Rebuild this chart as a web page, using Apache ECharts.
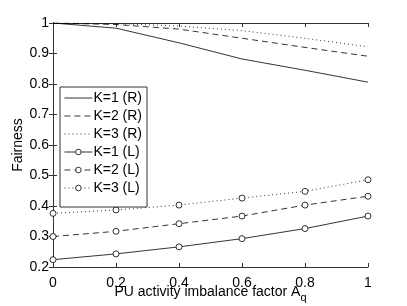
<!DOCTYPE html>
<html><head><meta charset="utf-8">
<script src="https://cdn.jsdelivr.net/npm/echarts@6/dist/echarts.min.js"></script>
<style>html,body{margin:0;padding:0;background:#fff}#c{width:407px;height:306px}</style>
</head><body><div id="c"></div>
<script>
const xCats = [0, 0.2, 0.4, 0.6, 0.8, 1];
const k1R = [1.0, 0.983, 0.935, 0.882, 0.845, 0.806];
const k2R = [1.0, 0.995, 0.980, 0.950, 0.920, 0.891];
const k3R = [1.0, 0.998, 0.990, 0.975, 0.950, 0.922];
const k1L = [0.224, 0.243, 0.266, 0.293, 0.326, 0.367];
const k2L = [0.300, 0.317, 0.342, 0.367, 0.403, 0.432];
const k3L = [0.376, 0.387, 0.403, 0.426, 0.448, 0.486];
const names = ['K=1 (R)','K=2 (R)','K=3 (R)','K=1 (L)','K=2 (L)','K=3 (L)'];
const datas = [k1R,k2R,k3R,k1L,k2L,k3L];
const styles = ['solid',[6,4],[1,3],'solid',[6,4],[1,3]];
const font = '"Liberation Sans", Arial, sans-serif';
const chart = echarts.init(document.getElementById('c'));
const circStyle = {color:'#fff', borderColor:'#000', borderWidth:0.8};
const series = datas.map((d,i)=>({
  name: names[i], type:'line',
  data: d.map((v,j)=>[xCats[j], v]),
  symbol: i>=3 ? 'circle' : 'none',
  symbolSize: 6,
  showSymbol: i>=3,
  lineStyle:{color:'#000', width:0.8, type: styles[i]},
  itemStyle: circStyle,
  silent:true, animation:false
}));
const axLine = {lineStyle:{color:'#333', width:1}};
chart.setOption({
  animation:false,
  textStyle:{fontFamily:font},
  grid:{left:53, right:39, top:23, bottom:39, outerBoundsMode:'none', containLabel:false},
  legend:{
    orient:'vertical', left:60, top:87, itemGap:2, itemWidth:28, itemHeight:7,
    padding:[3,5,11,4], borderColor:'#333', borderWidth:1, backgroundColor:'#fff',
    lineStyle:{width:0.8},
    textStyle:{fontFamily:font, fontSize:14, color:'#000', lineHeight:16, padding:[0,0,0,-4]},
    data: names.map((n,i)=>({name:n, itemStyle: i>=3 ? circStyle : {opacity:0}}))
  },
  xAxis:[{
    type:'value', min:0, max:1, interval:0.2,
    axisLine:axLine, axisTick:{inside:true, length:4, lineStyle:{color:'#333'}},
    splitLine:{show:false},
    axisLabel:{color:'#000', fontSize:14, margin:9, formatter:v=>String(+v.toFixed(1))},
    name:'{a|PU activity imbalance factor A}{s|q}', nameLocation:'middle', nameGap:14,
    nameMoveOverlap:false,
    nameTextStyle:{rich:{a:{fontSize:14, color:'#000', fontFamily:font}, s:{fontSize:11, color:'#000', fontFamily:font, padding:[11,0,0,0]}}}
  },{
    type:'value', min:0, max:1, interval:0.2, position:'top',
    axisLine:axLine, axisTick:{inside:true, length:4, lineStyle:{color:'#333'}},
    axisLabel:{show:false}, splitLine:{show:false}
  }],
  yAxis:[{
    type:'value', min:0.2, max:1, interval:0.1,
    axisLine:axLine, axisTick:{inside:true, length:4, lineStyle:{color:'#333'}},
    splitLine:{show:false},
    axisLabel:{color:'#000', fontSize:14, margin:4, formatter:v=>String(+v.toFixed(1))},
    name:'Fairness', nameLocation:'middle', nameGap:28, nameMoveOverlap:false,
    nameTextStyle:{fontSize:14, color:'#000', fontFamily:font}
  },{
    type:'value', min:0.2, max:1, interval:0.1, position:'right',
    axisLine:axLine, axisTick:{inside:true, length:4, lineStyle:{color:'#333'}},
    axisLabel:{show:false}, splitLine:{show:false}
  }],
  series: series
});
</script></body></html>
